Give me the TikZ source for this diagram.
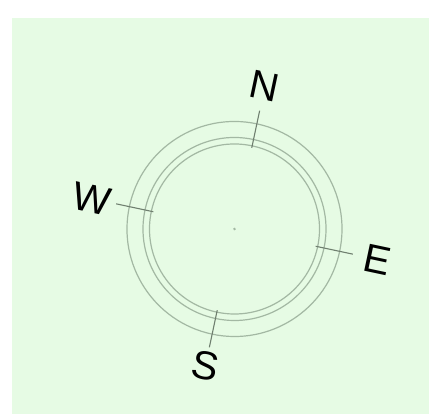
\documentclass[tikz,border=0pt]{standalone}
\usepackage{fontspec}
\setmainfont{Liberation Sans}
\usepackage{tikz}
\usepackage{xcolor}
\definecolor{lightbg}{HTML}{E6FBE4}
\definecolor{ringgrey}{HTML}{A3B8A3}
\definecolor{tickgrey}{HTML}{6F7F6F}

\begin{document}
\begin{tikzpicture}[x=1pt, y=1pt,
  ring/.style={draw=ringgrey, line width=1.2pt},
  tickline/.style={draw=tickgrey, line width=1.1pt},
  dirlabel/.style={font=\fontsize{40}{40}\selectfont, text=black, inner sep=0pt, rotate=-12},
]
  \useasboundingbox (0,0) rectangle (429,414);
  \fill[lightbg] (12,0) rectangle (429,396);
  \begin{scope}[shift={(234.5,185)}, rotate=-12]
    % rings
    \draw[ring] (0,0) circle (107.5);
    \draw[ring] (0,0) circle (91.5);
    \draw[ring] (0,0) circle (85);
    \fill[ringgrey] (0,0) coordinate (centre) circle (1.4);
    % ticks and letters
    \foreach \ang/\lbl/\dist in {90/N/146, 0/E/146, 270/S/140, 180/W/146}{
      \draw[tickline] (\ang:83) -- (\ang:121);
      \node[dirlabel] (dir\lbl) at (\ang:\dist) {\lbl};
    }
  \end{scope}
\end{tikzpicture}
\end{document}
